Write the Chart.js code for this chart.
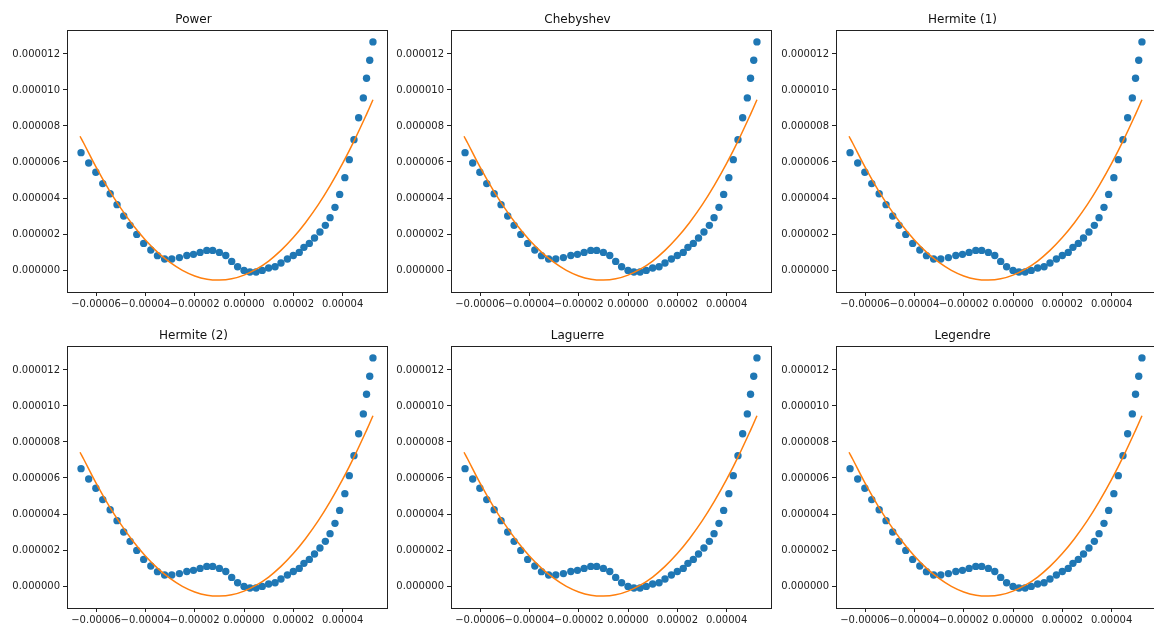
<!DOCTYPE html>
<html>
<head>
<meta charset="utf-8">
<script src="https://cdn.jsdelivr.net/npm/chart.js@4.4.1/dist/chart.umd.min.js"></script>
<style>
    html, body { margin: 0; padding: 0; background: #fff; overflow: hidden; }
    #fig { position: relative; width: 1154px; height: 624px; overflow: hidden; }
    #fig canvas { position: absolute; }
</style>
</head>
<body>
<div id="fig"></div>
<script>
// panel titles, one per polynomial basis
const titles = ['Power', 'Chebyshev', 'Hermite (1)', 'Hermite (2)', 'Laguerre', 'Legendre'];

// sample points (x in units of 1e-5, y in units of 1e-6)
const sampleX = [-6.61, -6.30, -6.01, -5.73, -5.43, -5.15, -4.88, -4.62, -4.35, -4.07,
                 -3.78, -3.51, -3.22, -2.93, -2.62, -2.32, -2.05, -1.78, -1.51, -1.27,
                 -1.00, -0.74, -0.50, -0.26, 0.00, 0.24, 0.49, 0.74, 1.00, 1.26,
                 1.50, 1.76, 2.00, 2.24, 2.43, 2.65, 2.86, 3.08, 3.30, 3.49,
                 3.69, 3.88, 4.09, 4.27, 4.46, 4.65, 4.84, 4.97, 5.10, 5.23];
const sampleY = [6.52, 5.94, 5.43, 4.80, 4.24, 3.63, 3.00, 2.48, 1.98, 1.48,
                 1.11, 0.80, 0.61, 0.61, 0.69, 0.81, 0.87, 0.98, 1.09, 1.09,
                 0.98, 0.81, 0.48, 0.18, -0.02, -0.11, -0.11, -0.02, 0.11, 0.18,
                 0.39, 0.61, 0.81, 0.98, 1.26, 1.48, 1.78, 2.11, 2.48, 2.91,
                 3.48, 4.20, 5.13, 6.13, 7.24, 8.46, 9.56, 10.65, 11.65, 12.67];

// fitted quadratic, same units
const fitX = [-6.65, -6.5, -6.0, -5.5, -5.0, -4.5, -4.0, -3.5, -3.0, -2.5, -2.0, -1.5, -1.0,
              -0.5, 0.0, 0.5, 1.0, 1.5, 2.0, 2.5, 3.0, 3.5, 4.0, 4.5, 5.0, 5.23];
const fitY = [7.43, 7.04, 5.71, 4.51, 3.44, 2.49, 1.67, 0.98, 0.42, -0.02, -0.33, -0.51, -0.56,
              -0.49, -0.28, 0.05, 0.50, 1.09, 1.80, 2.64, 3.60, 4.70, 5.92, 7.27, 8.74, 9.46];

// tick positions
const xTicks = [-6e-5, -4e-5, -2e-5, 0, 2e-5, 4e-5];
const yTicks = [0, 2e-6, 4e-6, 6e-6, 8e-6, 10e-6, 12e-6];

const colLeft = [67, 451, 836];
const rowTop = [30, 346];

const frame = {
    id: 'frame',
    afterDatasetsDraw(chart) {
        const a = chart.chartArea;
        const ctx = chart.ctx;
        ctx.save();
        ctx.strokeStyle = '#222';
        ctx.lineWidth = 1;
        ctx.strokeRect(Math.round(a.left) + 0.5, Math.round(a.top) + 0.5,
                       Math.round(a.right - a.left), Math.round(a.bottom - a.top));
        ctx.restore();
    }
};

function makePanel(i) {
    const canvas = document.createElement('canvas');
    canvas.width = 397;
    canvas.height = 316;
    canvas.style.left = (colLeft[i % 3] - 67) + 'px';
    canvas.style.top = (rowTop[Math.floor(i / 3)] - 30) + 'px';
    document.getElementById('fig').appendChild(canvas);

    const points = sampleX.map((x, k) => ({ x: x * 1e-5, y: sampleY[k] * 1e-6 }));
    const fit = fitX.map((x, k) => ({ x: x * 1e-5, y: fitY[k] * 1e-6 }));

    const tickFont = { family: 'DejaVu Sans', size: 10 };

    new Chart(canvas.getContext('2d'), {
        type: 'scatter',
        data: {
            datasets: [{
                data: fit,
                showLine: true,
                borderColor: '#ff7f0e',
                borderWidth: 1.5,
                pointRadius: 0,
                tension: 0.4,
                order: 0
            }, {
                data: points,
                backgroundColor: '#1f77b4',
                borderWidth: 0,
                pointRadius: 3.7,
                order: 1
            }]
        },
        options: {
            responsive: false,
            animation: false,
            devicePixelRatio: 1,
            layout: { padding: { left: 0, right: 10, top: 0, bottom: 0 } },
            plugins: {
                legend: { display: false },
                tooltip: { enabled: false },
                title: {
                    display: true,
                    text: titles[i],
                    color: '#111',
                    font: { family: 'DejaVu Sans', size: 12, weight: 'normal', lineHeight: 1.2 },
                    padding: { top: 12.5, bottom: 3.1 }
                }
            },
            scales: {
                x: {
                    type: 'linear',
                    min: -7.18e-5,
                    max: 5.80e-5,
                    afterBuildTicks: s => { s.ticks = xTicks.map(v => ({ value: v })); },
                    afterFit: s => { s.height = 24; },
                    border: { display: false },
                    grid: { drawOnChartArea: false, drawTicks: true, tickLength: 4, color: '#222' },
                    ticks: {
                        color: '#222',
                        font: tickFont,
                        padding: 2,
                        maxRotation: 0,
                        autoSkip: false,
                        callback: v => v.toFixed(5).replace('-', '\u2212')
                    }
                },
                y: {
                    type: 'linear',
                    min: -1.22e-6,
                    max: 13.33e-6,
                    afterBuildTicks: s => { s.ticks = yTicks.map(v => ({ value: v })); },
                    afterFit: s => { s.width = 67; },
                    border: { display: false },
                    grid: { drawOnChartArea: false, drawTicks: true, tickLength: 4, color: '#222' },
                    ticks: {
                        color: '#222',
                        font: tickFont,
                        padding: 3,
                        autoSkip: false,
                        callback: v => v.toFixed(6)
                    }
                }
            }
        },
        plugins: [frame]
    });
}

document.addEventListener('DOMContentLoaded', function () {
    for (let i = 0; i < titles.length; i++) {
        makePanel(i);
    }
});
</script>
</body>
</html>
